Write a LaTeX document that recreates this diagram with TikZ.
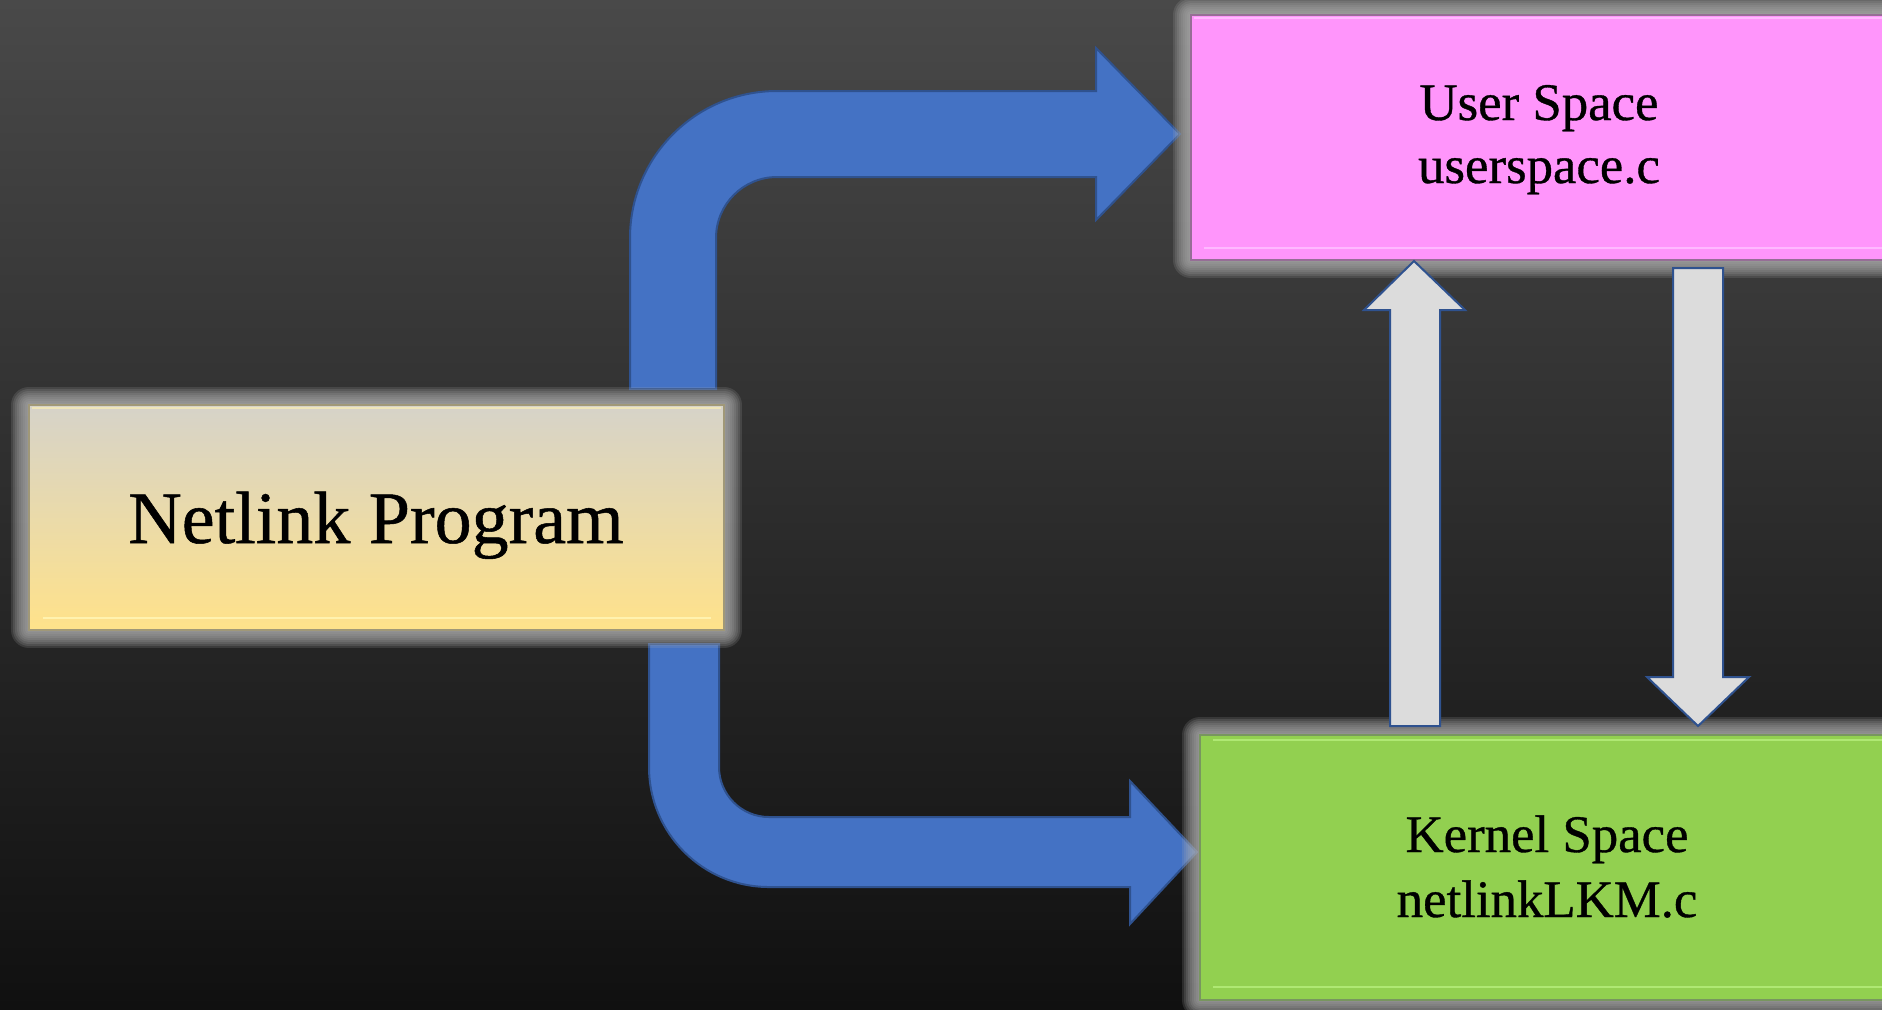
\documentclass[tikz,border=0pt]{standalone}
\usepackage{fontspec}
\setmainfont{Liberation Serif}
\newfontfamily\labelfont[FakeBold=0.7]{Liberation Serif}
\usetikzlibrary{fit,calc}

\definecolor{bgtop}{RGB}{73,73,73}
\definecolor{bgbot}{RGB}{16,16,16}
\definecolor{haloc}{RGB}{175,175,175}
\definecolor{npTop}{RGB}{214,211,201}
\definecolor{npMid}{RGB}{238,222,168}
\definecolor{npBot}{RGB}{255,226,138}
\definecolor{npEdge}{RGB}{160,152,120}
\definecolor{npHi}{RGB}{255,242,175}
\definecolor{usFill}{RGB}{255,149,251}
\definecolor{usEdge}{RGB}{150,110,150}
\definecolor{usHi}{RGB}{255,185,255}
\definecolor{ksFill}{RGB}{146,208,80}
\definecolor{ksEdge}{RGB}{120,150,95}
\definecolor{ksHi}{RGB}{175,232,115}
\definecolor{blueFill}{RGB}{68,114,196}
\definecolor{blueEdge}{RGB}{47,82,143}
\definecolor{greyFill}{RGB}{220,220,220}

\tikzset{
  glowline/.style={draw=haloc, draw opacity=0.17, line join=round},
  boxnode/.style={inner sep=0pt, line width=1pt},
  bigtxt/.style={font=\labelfont\fontsize{37}{44}\selectfont, anchor=base, inner sep=0pt},
  midtxt/.style={font=\labelfont\fontsize{26.4}{32}\selectfont, anchor=base, inner sep=0pt},
  bluearrow/.style={fill=blueFill, draw=blueEdge, line width=1pt, line join=miter},
  greyarrow/.style={fill=greyFill, draw=blueEdge, line width=1pt, line join=miter},
}

\begin{document}
\begin{tikzpicture}[x=0.5pt,y=0.5pt]
  \useasboundingbox (0,0) rectangle (1882,-1009);
  \clip (0,0) rectangle (1882,-1009);

  % dark graded backdrop
  \shade[top color=bgtop, bottom color=bgbot] (0,0) rectangle (1882,-1009);

  % corner points of the three blocks
  \coordinate (np1) at (29,-405);   \coordinate (np2) at (724,-630);
  \coordinate (us1) at (1191,-15);  \coordinate (us2) at (1920,-260);
  \coordinate (ks1) at (1200,-735); \coordinate (ks2) at (1920,-1000);

  % bent block arrows from the program to both spaces
  \draw[bluearrow] (630,-389) -- (630,-238) arc (180:90:147) -- (1096,-91)
    -- (1096,-48) -- (1180,-134) -- (1096,-220) -- (1096,-177) -- (777,-177)
    arc (90:180:61) -- (716,-389) -- cycle;
  \draw[bluearrow] (649,-644) -- (649,-767) arc (180:270:120) -- (1130,-887)
    -- (1130,-924) -- (1197,-852) -- (1130,-781) -- (1130,-817) -- (769,-817)
    arc (270:180:50) -- (719,-644) -- cycle;

  % soft glow around every block
  \foreach \w in {18,16,...,2} {
    \draw[glowline, line width=\w pt] (np1) rectangle (np2);
    \draw[glowline, line width=\w pt] (us1) rectangle (us2);
    \draw[glowline, line width=\w pt] (ks1) rectangle (ks2);
  }

  % blocks
  \node[boxnode, fit=(np1)(np2), draw=npEdge, top color=npTop, middle color=npMid, bottom color=npBot] (netlink) {};
  \node[boxnode, fit=(us1)(us2), draw=usEdge, fill=usFill] (user) {};
  \node[boxnode, fit=(ks1)(ks2), draw=ksEdge, fill=ksFill] (kernel) {};

  % bevel highlights
  \draw[npHi, line width=1pt] ($(netlink.south west)+(15,13)$) -- ($(netlink.south east)+(-14,13)$);
  \draw[npHi!60!npTop, line width=0.8pt] ($(netlink.north west)+(4,-4)$) -- ($(netlink.north east)+(-4,-4)$);
  \draw[usHi, line width=1pt] ($(user.south west)+(14,13)$) -- ($(user.south east)+(-14,13)$);
  \draw[usHi, line width=0.8pt] ($(user.north west)+(4,-4)$) -- ($(user.north east)+(-4,-4)$);
  \draw[ksHi, line width=1pt] ($(kernel.south west)+(14,14)$) -- ($(kernel.south east)+(-14,14)$);
  \draw[ksHi, line width=0.8pt] ($(kernel.north west)+(14,-6)$) -- ($(kernel.north east)+(-14,-6)$);

  % labels
  \node[bigtxt] (nptext) at (376,-543) {Netlink Program};
  \node[midtxt] (ustext1) at (1539,-120) {User Space};
  \node[midtxt] (ustext2) at (1539,-183) {userspace.c};
  \node[midtxt] (kstext1) at (1547,-852) {Kernel Space};
  \node[midtxt] (kstext2) at (1547,-917) {netlinkLKM.c};

  % message arrows between kernel and user space
  \draw[greyarrow] (1390,-726) -- (1390,-310) -- (1364,-310) -- (1414,-261)
    -- (1465,-310) -- (1440,-310) -- (1440,-726) -- cycle;
  \draw[greyarrow] (1673,-268) -- (1723,-268) -- (1723,-677) -- (1749,-677)
    -- (1698,-726) -- (1647,-677) -- (1673,-677) -- cycle;
\end{tikzpicture}
\end{document}
